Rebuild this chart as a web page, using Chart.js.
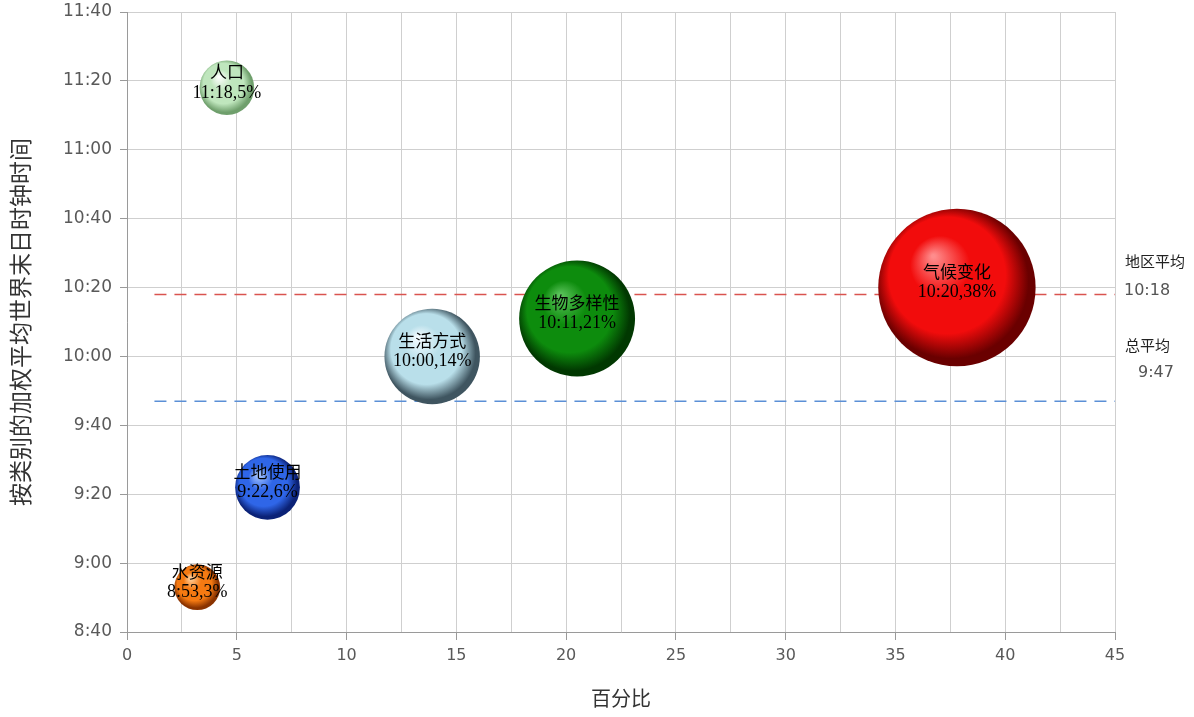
<!DOCTYPE html>
<html>
<head>
<meta charset="utf-8">
<title>按类别的加权平均世界末日时钟时间</title>
<script src="https://cdn.jsdelivr.net/npm/chart.js@4/dist/chart.umd.min.js"></script>
<style>
  html, body { margin: 0; padding: 0; background: #ffffff; }
  canvas { display: block; }
</style>
</head>
<body>
<canvas id="chart" width="1194" height="717"></canvas>
<script>
// ---- data ----
const categories   = ['人口', '水资源', '土地使用', '生活方式', '生物多样性', '气候变化'];
const percentShare = [4.55, 3.2, 6.4, 13.9, 20.5, 37.8];          // 百分比
const clockTimes   = ['11:18', '8:53', '9:22', '10:00', '10:11', '10:20'];
const averageNames = ['地区平均', '总平均'];
const averageTimes = ['10:18', '9:47'];
const averageSpan  = [1.25, 45];                                   // x range of the average lines
const yRange       = ['8:40', '11:40'];
const yStepMinutes = 20;
const xRange       = [0, 45];

// ---- styles ----
const sphereColors = [
  { hi: '#ffffff', base: '#bfe6bd', rim: '#6f9f6c' },
  { hi: '#ffd2a0', base: '#f57a12', rim: '#8a3300' },
  { hi: '#a9c8ff', base: '#2f66e8', rim: '#0b2277' },
  { hi: '#f4fbff', base: '#b9dfea', rim: '#3f5560' },
  { hi: '#5cc45c', base: '#0d8c0d', rim: '#013801' },
  { hi: '#ff8c8c', base: '#f20c0c', rim: '#6a0000' }
];
const averageColors = ['#d9534f', '#5b8fd6'];

// ---- helpers ----
const toMinutes = t => { const [h, m] = t.split(':').map(Number); return h * 60 + m; };
const toClock = v => Math.floor(v / 60) + ':' + String(Math.round(v % 60)).padStart(2, '0');
const bubbleRadius = pct => 12.8 * Math.sqrt(pct);

const bubbleData = categories.map((c, i) => ({ x: percentShare[i], y: toMinutes(clockTimes[i]) }));

// shaded sphere fill for each bubble
function sphereFill(ctx) {
  const chart = ctx.chart;
  const raw = ctx.raw;
  const col = sphereColors[ctx.dataIndex];
  if (!chart.chartArea || !raw) return col.base;
  const x = chart.scales.x.getPixelForValue(raw.x);
  const y = chart.scales.y.getPixelForValue(raw.y);
  const r = bubbleRadius(raw.x);
  const g = chart.ctx.createRadialGradient(x - r * 0.3, y - r * 0.4, r * 0.02, x - r * 0.05, y - r * 0.05, r * 1.05);
  g.addColorStop(0, col.hi);
  g.addColorStop(0.35, col.base);
  g.addColorStop(0.7, col.base);
  g.addColorStop(0.93, col.rim);
  g.addColorStop(1, col.rim);
  return g;
}

// bubble captions: name over "time,percent%"
const captionPlugin = {
  id: 'captions',
  afterDatasetsDraw(chart) {
    const meta = chart.getDatasetMeta(0);
    const c = chart.ctx;
    c.save();
    c.fillStyle = '#000000';
    c.textAlign = 'center';
    c.textBaseline = 'middle';
    meta.data.forEach((el, i) => {
      c.font = '17px "Noto Sans CJK SC"';
      c.fillText(categories[i], el.x, el.y - 16);
      c.font = '18px "Liberation Serif"';
      c.fillText(clockTimes[i] + ',' + Math.round(percentShare[i]) + '%', el.x, el.y + 5);
    });
    c.restore();
  }
};

// notes for the average lines, right of the plot
const averageNotePlugin = {
  id: 'averageNotes',
  afterDraw(chart) {
    const c = chart.ctx;
    const area = chart.chartArea;
    const ys = averageTimes.map(t => chart.scales.y.getPixelForValue(toMinutes(t)));
    c.save();
    c.textBaseline = 'middle';
    c.textAlign = 'left';
    c.fillStyle = '#222222';
    c.font = '15px "Noto Sans CJK SC"';
    c.fillText(averageNames[0], area.right + 10, ys[0] - 33);
    c.fillText(averageNames[1], area.right + 10, ys[1] - 56);
    c.fillStyle = '#555555';
    c.font = '16px "DejaVu Sans"';
    c.fillText(averageTimes[0], area.right + 9, ys[0] - 4);
    c.fillText(averageTimes[1], area.right + 23, ys[1] - 28);
    c.restore();
  }
};

const averageDatasets = averageTimes.map((t, i) => ({
  type: 'line',
  label: averageNames[i],
  data: averageSpan.map(x => ({ x, y: toMinutes(t) })),
  borderColor: averageColors[i],
  borderWidth: 1.6,
  borderDash: [12, 8],
  pointRadius: 0,
  fill: false,
  order: 2
}));

new Chart(document.getElementById('chart'), {
  type: 'bubble',
  data: {
    datasets: [
      {
        label: '类别',
        data: bubbleData,
        radius: ctx => bubbleRadius(ctx.raw ? ctx.raw.x : 1),
        backgroundColor: sphereFill,
        borderWidth: 0,
        clip: false,
        order: 1
      },
      ...averageDatasets
    ]
  },
  options: {
    responsive: false,
    animation: false,
    devicePixelRatio: 1,
    layout: { autoPadding: false, padding: { left: 0, right: 79, top: 12, bottom: 0 } },
    plugins: {
      legend: { display: false },
      tooltip: { enabled: false }
    },
    scales: {
      x: {
        type: 'linear',
        min: xRange[0],
        max: xRange[1],
        afterFit: s => { s.height = 85; s.paddingLeft = 0; s.paddingRight = 0; },
        border: { color: '#9a9a9a', width: 1 },
        grid: {
          color: '#cfcfcf',
          tickLength: 8,
          tickColor: ctx => (ctx.tick && ctx.tick.value % 5 === 0) ? '#9a9a9a' : 'rgba(0,0,0,0)'
        },
        ticks: {
          stepSize: 2.5,
          autoSkip: false,
          maxRotation: 0,
          padding: 6,
          color: '#595959',
          font: { family: 'DejaVu Sans', size: 16 },
          callback: v => (v % 5 === 0 ? String(v) : '')
        },
        title: {
          display: true,
          text: '百分比',
          color: '#333333',
          font: { family: 'Noto Sans CJK SC', size: 20 },
          padding: { top: 0, bottom: 7 }
        }
      },
      y: {
        type: 'linear',
        min: toMinutes(yRange[0]),
        max: toMinutes(yRange[1]),
        afterFit: s => { s.width = 127; s.paddingTop = 0; s.paddingBottom = 0; },
        border: { color: '#9a9a9a', width: 1 },
        grid: { color: '#cfcfcf', tickLength: 7, tickColor: '#9a9a9a' },
        ticks: {
          stepSize: yStepMinutes,
          padding: 8,
          color: '#595959',
          font: { family: 'DejaVu Sans', size: 17 },
          callback: v => toClock(v)
        },
        title: {
          display: true,
          text: '按类别的加权平均世界末日时钟时间',
          color: '#333333',
          font: { family: 'Noto Sans CJK SC', size: 23 },
          padding: { top: 6, bottom: 0 }
        }
      }
    }
  },
  plugins: [captionPlugin, averageNotePlugin]
});
</script>
</body>
</html>
